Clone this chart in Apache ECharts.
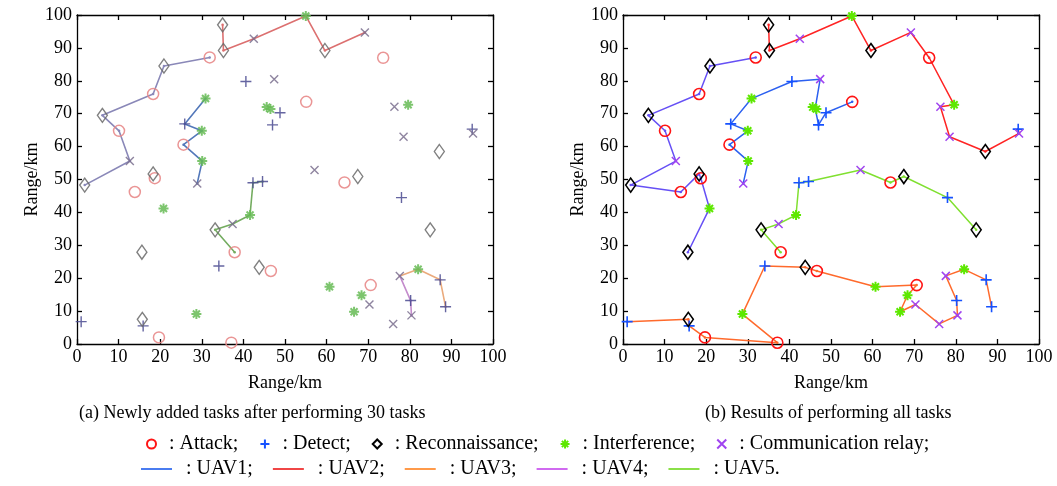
<!DOCTYPE html>
<html>
<head>
<meta charset="utf-8">
<script src="https://cdn.jsdelivr.net/npm/echarts@6/dist/echarts.min.js"></script>
<style>
  html, body { margin: 0; padding: 0; background: #fff; }
  #chart { width: 1057px; height: 486px; }
</style>
</head>
<body>
<div id="chart"></div>
<script>
// task positions (km)
var attackTasks = [[31.9, 87.1], [18.3, 76.0], [10.1, 64.8], [13.9, 46.2], [18.7, 50.4], [55.1, 73.6], [25.6, 60.6],
  [73.6, 87.0], [37.9, 27.9], [64.3, 49.1], [19.7, 2.0], [37.1, 0.4], [46.6, 22.2], [70.6, 17.9]]
var detectTasks = [[48.8, 70.3], [47.0, 66.6], [40.6, 79.8], [25.9, 66.9], [42.3, 49.0], [44.6, 49.4], [78.0, 44.5],
  [95.0, 65.3], [1.0, 6.8], [15.9, 5.5], [34.1, 23.7], [80.2, 13.2], [87.3, 19.5], [88.6, 11.3]]
var reconTasks = [[35.0, 97.0], [35.2, 89.2], [20.9, 84.5], [6.1, 69.5], [1.85, 48.3], [18.3, 51.7], [15.6, 27.9],
  [59.6, 89.2], [87.1, 58.5], [33.2, 34.7], [67.5, 50.9], [84.9, 34.7], [15.7, 7.5], [43.8, 23.3]]
var interferenceTasks = [[55.0, 99.7], [79.6, 72.7], [45.6, 72.0], [46.5, 71.4], [30.9, 74.6], [30.0, 64.8], [30.1, 55.6],
  [20.8, 41.2], [41.6, 39.2], [28.7, 9.1], [60.7, 17.4], [68.4, 14.8], [66.6, 9.8], [82.0, 22.7]]
var relayTasks = [[42.5, 92.8], [69.2, 94.7], [76.3, 72.1], [78.5, 63.0], [95.2, 64.0], [47.4, 80.5], [12.7, 55.6],
  [28.9, 48.8], [37.4, 36.5], [57.1, 52.9], [70.3, 12.0], [76.0, 6.1], [80.4, 8.7], [77.6, 20.7]]

// routes after the first 30 tasks (a)
var partRouteA = [[31.9, 87.1], [20.9, 84.5], [18.3, 76.0], [6.1, 69.5], [10.1, 64.8], [12.7, 55.6], [1.85, 48.3]]
var partRouteB = [[35.0, 97.0], [35.2, 89.2], [42.5, 92.8], [55.0, 99.7], [59.6, 89.2], [69.2, 94.7]]
var partRouteC = [[30.9, 74.6], [25.9, 66.9], [30.0, 64.8], [25.6, 60.6], [30.1, 55.6], [28.9, 48.8]]
var partRouteD = [[37.9, 27.9], [33.2, 34.7], [37.4, 36.5], [41.6, 39.2], [42.3, 49.0], [44.6, 49.4]]
var partRouteE = [[77.6, 20.7], [82.0, 22.7], [87.3, 19.5], [88.6, 11.3]]
var partRouteF = [[77.6, 20.7], [80.2, 13.2], [80.4, 8.7]]

// full routes (b)
var routeA = [[31.9, 87.1], [20.9, 84.5], [18.3, 76.0], [6.1, 69.5], [10.1, 64.8], [12.7, 55.6], [1.85, 48.3],
  [13.9, 46.2], [18.3, 51.7], [18.7, 50.4], [20.8, 41.2], [15.6, 27.9]]
var routeB = [[35.0, 97.0], [35.2, 89.2], [42.5, 92.8], [55.0, 99.7], [59.6, 89.2], [69.2, 94.7], [73.6, 87.0],
  [79.6, 72.7], [76.3, 72.1], [78.5, 63.0], [87.1, 58.5], [95.2, 64.0], [95.0, 65.3]]
var routeC = [[55.1, 73.6], [48.8, 70.3], [47.0, 66.6], [46.2, 71.6], [47.4, 80.5], [40.6, 79.8], [30.9, 74.6],
  [25.9, 66.9], [30.0, 64.8], [25.6, 60.6], [30.1, 55.6], [28.9, 48.8]]
var routeD = [[37.9, 27.9], [33.2, 34.7], [37.4, 36.5], [41.6, 39.2], [42.3, 49.0], [44.6, 49.4], [57.1, 52.9],
  [64.3, 49.1], [67.5, 50.9], [78.0, 44.5], [84.9, 34.7]]
var routeE = [[1.0, 6.8], [15.7, 7.5], [15.9, 5.5], [19.7, 2.0], [37.1, 0.4], [28.7, 9.1], [34.1, 23.7], [43.8, 23.3],
  [46.6, 22.2], [60.7, 17.4], [70.6, 17.9], [68.4, 14.8], [66.6, 9.8], [70.3, 12.0], [76.0, 6.1], [80.4, 8.7],
  [80.2, 13.2], [77.6, 20.7], [82.0, 22.7], [87.3, 19.5], [88.6, 11.3]]

var taskNames = [': Attack;', ': Detect;', ': Reconnaissance;', ': Interference;', ': Communication relay;']
var uavNames = [': UAV1;', ': UAV2;', ': UAV3;', ': UAV4;', ': UAV5.']

var FONT = 'Liberation Serif'
var PLUS = 'path://M0,5L10,5M5,0L5,10'
var CROSS = 'path://M0,0L10,10M0,10L10,0'
var STAR = 'path://M0,5L10,5M5,0L5,10M1.5,1.5L8.5,8.5M1.5,8.5L8.5,1.5'

var myChart = echarts.init(document.getElementById('chart'))

function axisX(grid, top) {
  return {
    type: 'value', gridIndex: grid, position: top ? 'top' : 'bottom',
    min: 0, max: 100, interval: 10,
    name: top ? '' : 'Range/km', nameLocation: 'middle', nameGap: 30,
    nameTextStyle: { fontFamily: FONT, fontSize: 18, color: '#000' },
    axisLine: { show: true, onZero: false, lineStyle: { color: '#000', width: 1.3 } },
    axisTick: { show: true, inside: true, length: 5, lineStyle: { color: '#000', width: 1.3 } },
    axisLabel: { show: !top, margin: 4, fontFamily: FONT, fontSize: 18, color: '#000' },
    splitLine: { show: false }
  }
}
function axisY(grid, right) {
  return {
    type: 'value', gridIndex: grid, position: right ? 'right' : 'left',
    min: 0, max: 100, interval: 10,
    name: right ? '' : 'Range/km', nameLocation: 'middle', nameGap: 36,
    nameTextStyle: { fontFamily: FONT, fontSize: 18, color: '#000' },
    axisLine: { show: true, onZero: false, lineStyle: { color: '#000', width: 1.3 } },
    axisTick: { show: true, inside: true, length: 5, lineStyle: { color: '#000', width: 1.3 } },
    axisLabel: { show: !right, margin: 5, fontFamily: FONT, fontSize: 18, color: '#000' },
    splitLine: { show: false }
  }
}

function markers(name, data, symbol, size, color, bw, axis, opacity) {
  return {
    name: name, type: 'scatter', xAxisIndex: axis, yAxisIndex: axis,
    symbol: symbol, symbolSize: size, data: data, z: 5,
    itemStyle: { color: 'transparent', borderColor: color, borderWidth: bw, opacity: opacity }
  }
}
function route(name, data, color, axis, width) {
  return {
    name: name, type: 'line', xAxisIndex: axis, yAxisIndex: axis, data: data, z: 3,
    symbol: 'circle', symbolSize: 2.5, showSymbol: true,
    itemStyle: { color: color },
    lineStyle: { color: color, width: width }
  }
}

var series = [
  // (a) faded
  route('a1', partRouteA, '#8a88b8', 0, 1.6),
  route('a2', partRouteB, '#dc7070', 0, 1.6),
  route('a3', partRouteC, '#5378ba', 0, 1.6),
  route('a4', partRouteD, '#74ac60', 0, 1.6),
  route('a5', partRouteE, '#eaaa7c', 0, 1.6),
  route('a6', partRouteF, '#c48ccc', 0, 1.6),
  markers('fa', attackTasks, 'circle', 11, '#e88a8a', 1.5, 0, 0.9),
  markers('fd', detectTasks, PLUS, 11, '#4a4a90', 1.4, 0, 0.85),
  markers('fr', reconTasks, 'diamond', [10, 14], '#6a6a6a', 1.4, 0, 0.85),
  markers('fi', interferenceTasks, STAR, 10, '#66bb55', 2, 0, 0.85),
  markers('fc', relayTasks, CROSS, 8, '#7a6e8e', 1.4, 0, 0.85),
  // (b)
  route('b1', routeA, '#6650f5', 2, 1.5),
  route('b2', routeB, '#ff2424', 2, 1.5),
  route('b3', routeC, '#2c60f0', 2, 1.5),
  route('b4', routeD, '#80e030', 2, 1.5),
  route('b5', routeE, '#ff6a2c', 2, 1.5),
  markers(taskNames[0], attackTasks, 'circle', 11, '#ff1414', 1.6, 2, 1),
  markers(taskNames[1], detectTasks, PLUS, 11, '#1652ff', 1.6, 2, 1),
  markers(taskNames[2], reconTasks, 'diamond', [10, 14], '#000', 1.6, 2, 1),
  markers(taskNames[3], interferenceTasks, STAR, 10, '#5ee800', 2, 2, 1),
  markers(taskNames[4], relayTasks, CROSS, 8, '#a044f0', 1.5, 2, 1)
]
// legend-only entries for the UAVs
var uavColors = ['#4a7cf0', '#f04646', '#ff9a4a', '#d06af0', '#8ae048']
uavNames.forEach(function (n, i) {
  series.push({ name: n, type: 'line', xAxisIndex: 2, yAxisIndex: 2, data: [], symbol: 'none',
    itemStyle: { color: uavColors[i] }, lineStyle: { color: uavColors[i], width: 2 } })
})

myChart.setOption({
  backgroundColor: '#fff',
  animation: false,
  title: [
    { text: '(a) Newly added tasks after performing 30 tasks', left: 74, top: 399,
      textStyle: { fontFamily: FONT, fontSize: 18, fontWeight: 'normal', color: '#000' } },
    { text: '(b) Results of performing all tasks', left: 700, top: 399,
      textStyle: { fontFamily: FONT, fontSize: 18, fontWeight: 'normal', color: '#000' } }
  ],
  legend: [
    { data: taskNames, left: 141, top: 429, orient: 'horizontal', itemWidth: 9, itemHeight: 9, itemGap: 21,
      selectedMode: false, textStyle: { fontFamily: FONT, fontSize: 20, color: '#000', padding: [0, 0, 0, 8] } },
    { data: uavNames.map(function (n) { return { name: n, icon: 'rect' } }),
      left: 136, top: 454, orient: 'horizontal', itemWidth: 31, itemHeight: 2, itemGap: 20,
      selectedMode: false, textStyle: { fontFamily: FONT, fontSize: 20, color: '#000', padding: [0, 0, 0, 9] } }
  ],
  grid: [
    { left: 77, top: 15, width: 416, height: 329 },
    { left: 623, top: 15, width: 416, height: 329 }
  ],
  xAxis: [axisX(0, false), axisX(0, true), axisX(1, false), axisX(1, true)],
  yAxis: [axisY(0, false), axisY(0, true), axisY(1, false), axisY(1, true)],
  series: series
})
</script>
</body>
</html>
